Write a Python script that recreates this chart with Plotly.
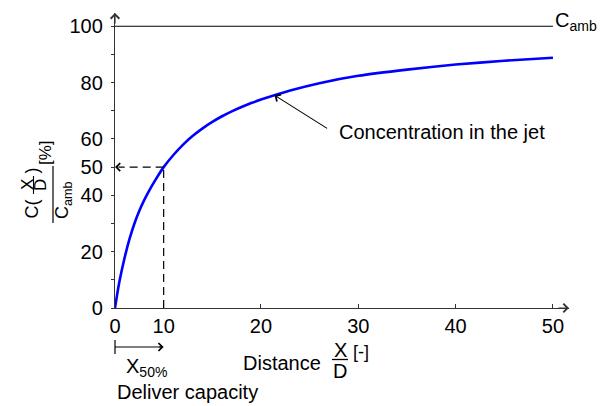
import numpy as np
import plotly.graph_objects as go

# ---- data ----
distance = [0, 0.5, 1, 2, 3, 4, 5, 6, 7, 8, 9, 10, 11, 12, 13, 14, 15, 16, 17, 18, 19, 20,
            23, 26, 30, 35, 40, 45, 50]
conc = [0, 5.4, 10.2, 18.0, 24.6, 30.0, 34.5, 38.3, 41.6, 44.6, 47.4, 50.0, 54.3, 58.0, 61.1,
        63.75, 66.05, 68.05, 69.8, 71.35, 72.73, 73.97, 77.2, 79.8, 82.4, 84.6, 86.4, 87.75, 88.8]
x_ticks = [0, 10, 20, 30, 40, 50]
y_ticks = [0, 20, 40, 50, 60, 80, 100]
y_minor = [10, 30, 70, 90]
c_amb = 100
x50 = 10
pointer_at = 21.4

FONT = "Liberation Sans, Arial, sans-serif"
W, H = 602, 406
L, R, T, B = 115, 33, 13, 98
PW, PH = W - L - R, H - T - B
XR = [5, 51.65]
YR = [0, 104.7]


def pos(x):
    # schematic axis: first decade drawn at half scale
    x = np.asarray(x, dtype=float)
    return np.where(x <= 10, 5 + x / 2, x)


def px(p):
    return (p - L) / PW


def py(p):
    return (T + PH - p) / PH


def upaper(u):
    return (u - XR[0]) / (XR[1] - XR[0])


fig = go.Figure()
fig.add_trace(go.Scatter(x=pos(distance), y=conc, mode="lines",
                         line=dict(color="#0000ff", width=2.6, shape="spline", smoothing=0.5),
                         hoverinfo="skip", showlegend=False))

fig.update_layout(
    width=W, height=H, margin=dict(l=L, r=R, t=T, b=B),
    paper_bgcolor="white", plot_bgcolor="white",
    font=dict(family=FONT, size=20, color="black"),
    showlegend=False,
    xaxis=dict(range=XR, tickvals=pos(x_ticks).tolist(), ticktext=[str(v) for v in x_ticks],
               ticks="inside", ticklen=4, tickwidth=1.2, tickcolor="#333",
               showline=True, linecolor="#333", linewidth=1.3, showgrid=False, zeroline=False,
               tickfont=dict(family=FONT, size=20, color="black")),
    yaxis=dict(range=YR, tickvals=y_ticks, ticktext=[str(v) for v in y_ticks],
               ticks="outside", ticklen=3, tickwidth=1.2, tickcolor="#333",
               minor=dict(tickvals=y_minor, ticks="outside", ticklen=3, tickwidth=1.2, tickcolor="#333"),
               showline=True, linecolor="#333", linewidth=1.3, showgrid=False, zeroline=False,
               ticklabelstandoff=4,
               tickfont=dict(family=FONT, size=20, color="black")),
)

# C_amb line
fig.add_shape(type="line", x0=XR[0], x1=50, y0=c_amb, y1=c_amb, xref="x", yref="y",
              line=dict(color="black", width=1.2))
fig.add_annotation(x=upaper(50), y=py(21), xref="paper", yref="paper", text="C<sub>amb</sub>",
                   showarrow=False, xanchor="left", yanchor="middle", font=dict(size=20))

# dashed guides
fig.add_shape(type="line", x0=float(pos(x50)), x1=float(pos(x50)), y0=0, y1=50, xref="x", yref="y",
              line=dict(color="black", width=1.2, dash="8px,5px"))
fig.add_shape(type="line", x0=float(pos(x50)), x1=XR[0] + 0.4, y0=50, y1=50, xref="x", yref="y",
              line=dict(color="black", width=1.2, dash="8px,5px"))
fig.add_annotation(x=XR[0], y=50, xref="x", yref="y", ax=5, ay=0, text="", showarrow=True,
                   arrowhead=4, arrowsize=1.4, arrowwidth=1.1, arrowcolor="black", standoff=0)

# axis arrows
fig.add_annotation(x=1, y=0, xref="paper", yref="paper", ax=-12, ay=0, text="", showarrow=True,
                   arrowhead=4, arrowsize=1.4, arrowwidth=1.2, arrowcolor="#333", standoff=0)
fig.add_annotation(x=0, y=1, xref="paper", yref="paper", ax=0, ay=12, text="", showarrow=True,
                   arrowhead=4, arrowsize=1.4, arrowwidth=1.2, arrowcolor="#333", standoff=0)

# pointer to the curve
tip_y = float(np.interp(pointer_at, distance, conc))
fig.add_annotation(x=float(pos(pointer_at)), y=tip_y, xref="x", yref="y", ax=54, ay=34, text="",
                   showarrow=True, arrowhead=4, arrowsize=1.4, arrowwidth=1.1, arrowcolor="black",
                   standoff=0)
fig.add_annotation(x=px(337), y=py(131.5), xref="paper", yref="paper", text="Concentration in the jet",
                   showarrow=False, xanchor="left", yanchor="middle", font=dict(size=20))

# x-axis title: Distance X/D [-]
fig.add_annotation(x=px(241), y=py(362.5), xref="paper", yref="paper", text="Distance",
                   showarrow=False, xanchor="left", yanchor="middle", font=dict(size=20))
fig.add_annotation(x=px(340), y=py(350), xref="paper", yref="paper", text="X",
                   showarrow=False, xanchor="center", yanchor="middle", font=dict(size=20))
fig.add_annotation(x=px(340), y=py(371), xref="paper", yref="paper", text="D",
                   showarrow=False, xanchor="center", yanchor="middle", font=dict(size=20))
fig.add_shape(type="line", x0=px(332), x1=px(348), y0=py(359.5), y1=py(359.5), xref="paper", yref="paper",
              line=dict(color="black", width=1.3))
fig.add_annotation(x=px(351), y=py(352), xref="paper", yref="paper", text="[-]",
                   showarrow=False, xanchor="left", yanchor="middle", font=dict(size=18))

# X50% bracket
fig.add_shape(type="line", x0=upaper(float(pos(0))), x1=upaper(float(pos(0))), y0=py(340), y1=py(354),
              xref="paper", yref="paper", line=dict(color="black", width=1.2))
fig.add_shape(type="line", x0=upaper(float(pos(0))), x1=upaper(float(pos(x50))) - 0.004,
              y0=py(347), y1=py(347), xref="paper", yref="paper", line=dict(color="black", width=1.2))
fig.add_annotation(x=upaper(float(pos(x50))), y=py(347), xref="paper", yref="paper", ax=-6, ay=0,
                   text="", showarrow=True, arrowhead=4, arrowsize=1.4, arrowwidth=1.1,
                   arrowcolor="black", standoff=0)
fig.add_annotation(x=px(124), y=py(368), xref="paper", yref="paper", text="X<sub>50%</sub>",
                   showarrow=False, xanchor="left", yanchor="middle", font=dict(size=20))
fig.add_annotation(x=px(115), y=py(392), xref="paper", yref="paper", text="Deliver capacity",
                   showarrow=False, xanchor="left", yanchor="middle", font=dict(size=20))

# y-axis title: C(X/D) / C_amb [%]  (rotated)
fig.add_annotation(x=px(31.5), y=py(209), xref="paper", yref="paper", text="C(",
                   showarrow=False, textangle=-90, xanchor="center", yanchor="middle", font=dict(size=18))
fig.add_annotation(x=px(27), y=py(185), xref="paper", yref="paper", text="X",
                   showarrow=False, textangle=-90, xanchor="center", yanchor="middle", font=dict(size=17))
fig.add_annotation(x=px(40), y=py(185), xref="paper", yref="paper", text="D",
                   showarrow=False, textangle=-90, xanchor="center", yanchor="middle", font=dict(size=17))
fig.add_shape(type="line", x0=px(33.5), x1=px(33.5), y0=py(176), y1=py(194), xref="paper", yref="paper",
              line=dict(color="black", width=1.1))
fig.add_annotation(x=px(31.5), y=py(171), xref="paper", yref="paper", text=")",
                   showarrow=False, textangle=-90, xanchor="center", yanchor="middle", font=dict(size=18))
fig.add_annotation(x=px(45), y=py(153), xref="paper", yref="paper", text="[%]",
                   showarrow=False, textangle=-90, xanchor="center", yanchor="middle", font=dict(size=17))
fig.add_shape(type="line", x0=px(53), x1=px(53), y0=py(166), y1=py(223), xref="paper", yref="paper",
              line=dict(color="black", width=1.2))
fig.add_annotation(x=px(63), y=py(200), xref="paper", yref="paper", text="C<sub>amb</sub>",
                   showarrow=False, textangle=-90, xanchor="center", yanchor="middle", font=dict(size=18))

fig.write_html("out.html")
